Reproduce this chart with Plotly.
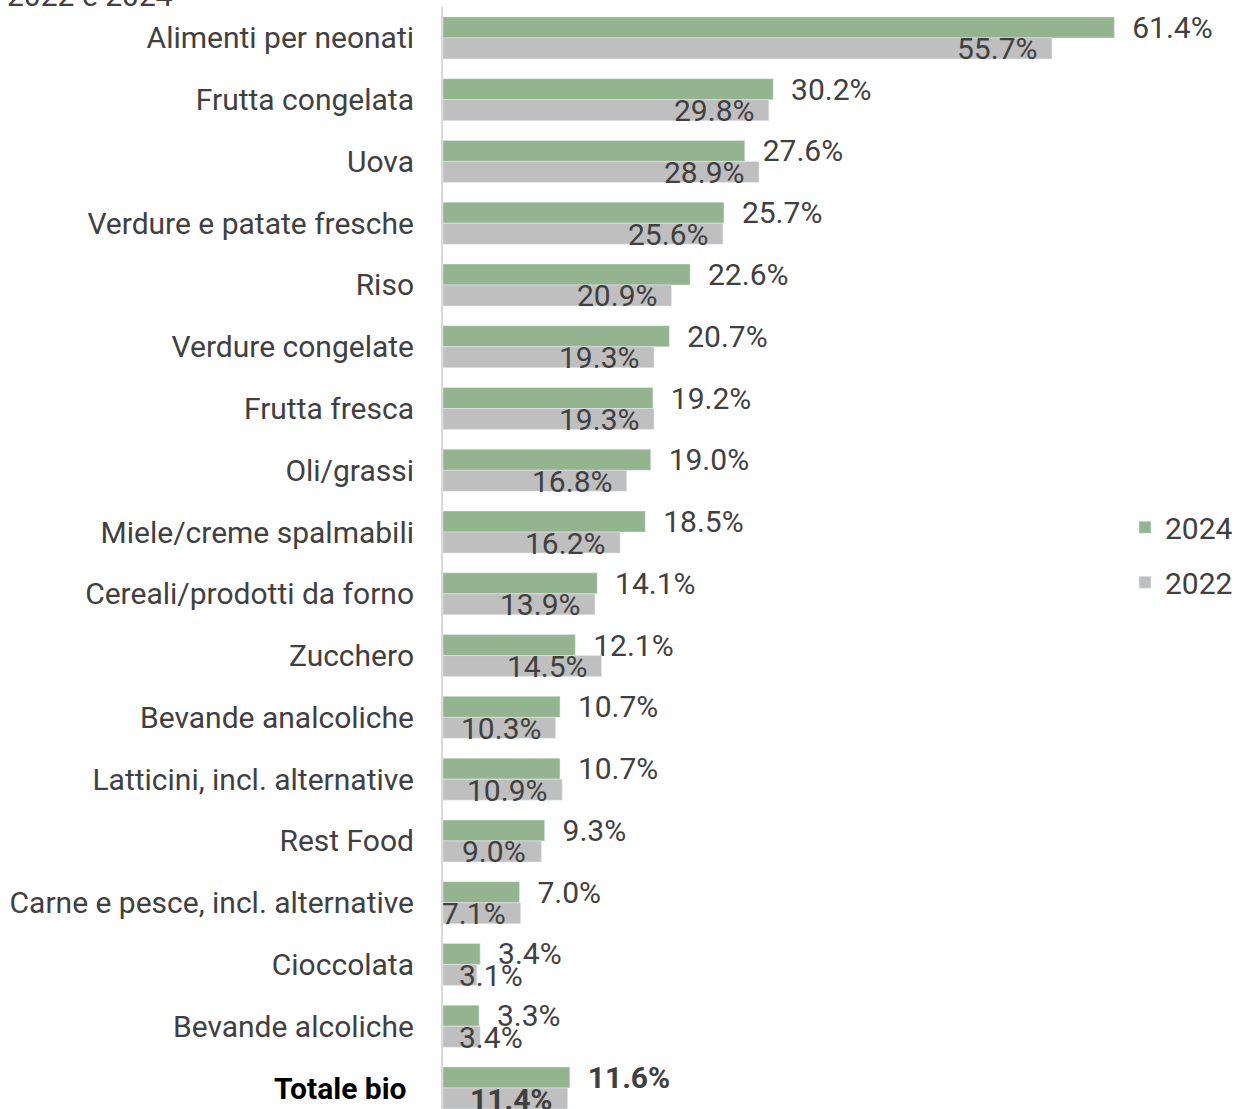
import plotly.graph_objects as go

categorie = ['Alimenti per neonati', 'Frutta congelata', 'Uova', 'Verdure e patate fresche', 'Riso',
             'Verdure congelate', 'Frutta fresca', 'Oli/grassi', 'Miele/creme spalmabili',
             'Cereali/prodotti da forno', 'Zucchero', 'Bevande analcoliche',
             'Latticini, incl. alternative', 'Rest Food', 'Carne e pesce, incl. alternative',
             'Cioccolata', 'Bevande alcoliche', 'Totale bio']
val2024 = [61.4, 30.2, 27.6, 25.7, 22.6, 20.7, 19.2, 19.0, 18.5, 14.1, 12.1, 10.7, 10.7, 9.3, 7.0, 3.4, 3.3, 11.6]
val2022 = [55.7, 29.8, 28.9, 25.6, 20.9, 19.3, 19.3, 16.8, 16.2, 13.9, 14.5, 10.3, 10.9, 9.0, 7.1, 3.1, 3.4, 11.4]

verde = '#93B48F'
grigio = '#BFBFBF'
testo = '#404040'
fnt = 'Roboto'
fs = 30

def etichetta(v, cat):
    s = f'{v:.1f}%'
    return f'<b>{s}</b>' if cat == 'Totale bio' else s

txt2024 = ['\u00a0\u00a0' + etichetta(v, c) for v, c in zip(val2024, categorie)]
ticktext = [c if c != 'Totale bio' else "<span style='color:black'><b>Totale bio\u00a0</b></span>" for c in categorie]

fig = go.Figure()
fig.add_trace(go.Bar(y=categorie, x=val2024, orientation='h', name='2024', marker_color=verde,
                     text=txt2024, textposition='outside', constraintext='none', cliponaxis=False,
                     textfont=dict(family=fnt, size=fs, color=testo), legendgroup='a'))
fig.add_trace(go.Bar(y=categorie, x=val2022, orientation='h', name='2022', marker_color=grigio,
                     legendgroup='b'))

# etichette 2022 dentro la barra, allineate alla fine
for c, v in zip(categorie, val2022):
    if v < 6:
        ann = dict(x=0, xanchor='left', xshift=14)
    else:
        ann = dict(x=v, xanchor='right', xshift=-13)
    fig.add_annotation(y=c, xref='x', yref='y', text=etichetta(v, c), showarrow=False,
                       yshift=-11, font=dict(family=fnt, size=fs, color=testo), **ann)

fig.add_annotation(text='2022 e 2024', xref='paper', yref='paper', x=-443 / 687, y=1 + 11 / 1102,
                   xanchor='left', yanchor='middle', showarrow=False,
                   font=dict(family=fnt, size=fs, color=testo))

fig.update_layout(
    width=1238, height=1109,
    margin=dict(l=443, r=108, t=7, b=0),
    barmode='group', bargap=0.32, bargroupgap=0,
    plot_bgcolor='white', paper_bgcolor='white',
    font=dict(family=fnt, size=fs, color=testo),
    legend=dict(x=1.005, xanchor='left', y=0.503, yanchor='middle', tracegroupgap=13,
                font=dict(family=fnt, size=fs, color=testo), traceorder='grouped'),
    xaxis=dict(range=[0, 62.1], visible=False),
    yaxis=dict(range=[17.34, -0.5], tickmode='array', tickvals=categorie, ticktext=ticktext,
               showline=True, linecolor='#D9D9D9', linewidth=2, ticks='', ticklabelstandoff=21,
               showgrid=False, tickfont=dict(family=fnt, size=fs, color=testo)),
)

fig.write_html('out.html', config={'displayModeBar': False},
               post_script="document.body.style.margin='0';")
